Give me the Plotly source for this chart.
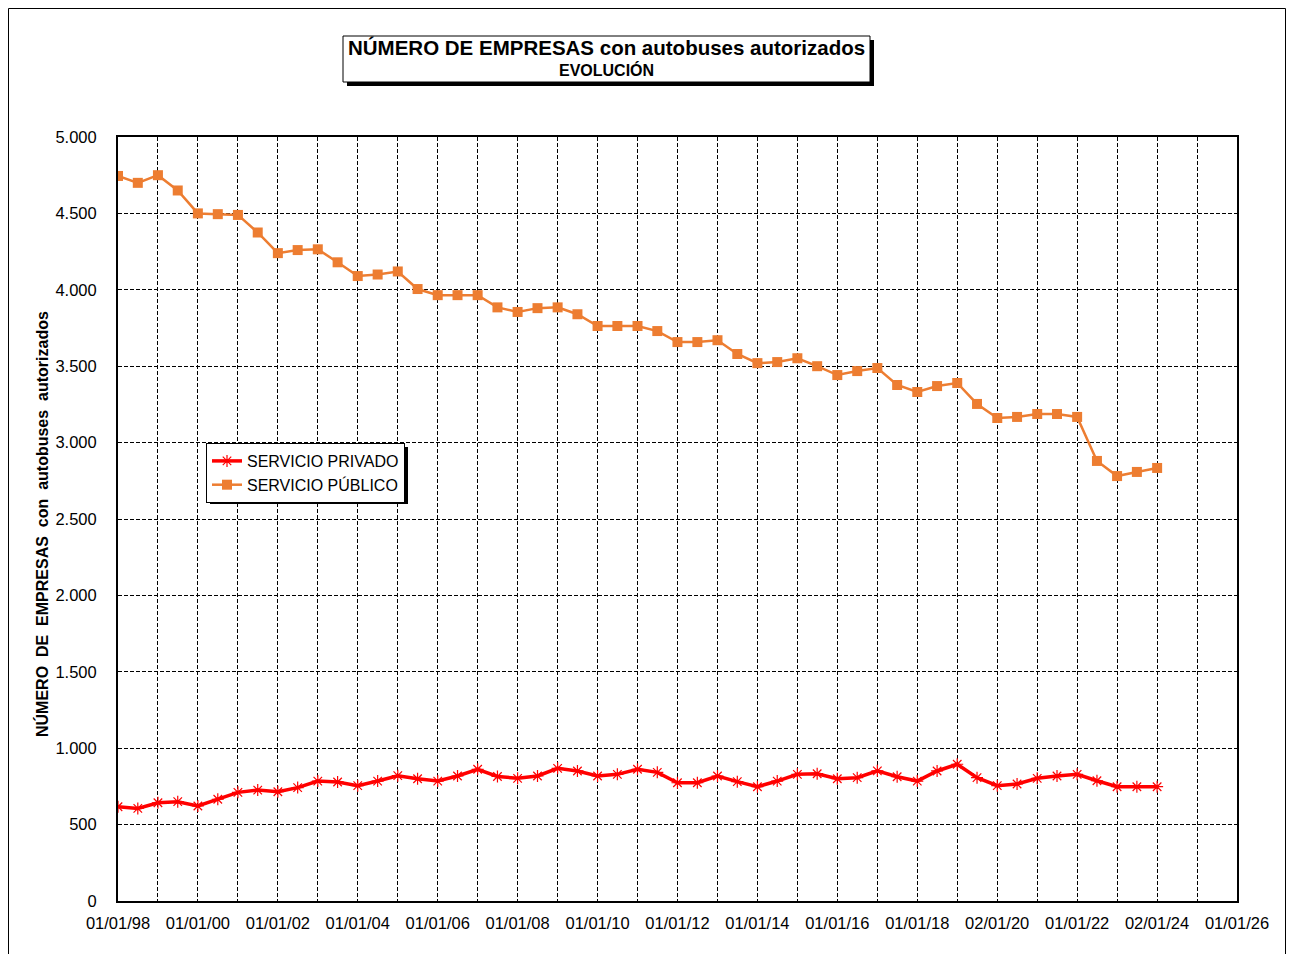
import plotly.graph_objects as go

fechas = [
    "1998-01-01", "1998-07-01", "1999-01-01", "1999-07-01", "2000-01-01", "2000-07-01",
    "2001-01-01", "2001-07-01", "2002-01-01", "2002-07-01", "2003-01-01", "2003-07-01",
    "2004-01-01", "2004-07-01", "2005-01-01", "2005-07-01", "2006-01-01", "2006-07-01",
    "2007-01-01", "2007-07-01", "2008-01-01", "2008-07-01", "2009-01-01", "2009-07-01",
    "2010-01-01", "2010-07-01", "2011-01-01", "2011-07-01", "2012-01-01", "2012-07-01",
    "2013-01-01", "2013-07-01", "2014-01-01", "2014-07-01", "2015-01-01", "2015-07-01",
    "2016-01-01", "2016-07-01", "2017-01-01", "2017-07-01", "2018-01-01", "2018-07-01",
    "2019-01-01", "2019-07-01", "2020-01-02", "2020-07-01", "2021-01-01", "2021-07-01",
    "2022-01-01", "2022-07-01", "2023-01-01", "2023-07-01", "2024-01-02",
]

servicio_publico = [
    4745, 4700, 4750, 4650, 4500, 4495, 4490, 4375, 4240, 4260, 4265, 4180,
    4090, 4100, 4120, 4005, 3965, 3965, 3965, 3885, 3855, 3880, 3885, 3840,
    3763, 3763, 3763, 3730, 3658, 3658, 3670, 3580, 3520, 3527, 3552, 3500,
    3442, 3468, 3488, 3377, 3331, 3370, 3390, 3253, 3161, 3168, 3187, 3187,
    3168, 2880, 2781, 2808, 2834,
]

servicio_privado = [
    617, 606, 643, 650, 622, 666, 711, 726, 715, 742, 785, 779,
    755, 785, 820, 800, 785, 818, 862, 815, 803, 818, 868, 851,
    818, 829, 862, 842, 774, 774, 818, 781, 748, 785, 829, 833,
    800, 807, 852, 813, 785, 851, 895, 807, 755, 766, 803, 818,
    829, 787, 748, 748, 748,
]

tick_fechas = [
    "1998-01-01", "1999-01-01", "2000-01-01", "2001-01-01", "2002-01-01", "2003-01-01",
    "2004-01-01", "2005-01-01", "2006-01-01", "2007-01-01", "2008-01-01", "2009-01-01",
    "2010-01-01", "2011-01-01", "2012-01-01", "2013-01-01", "2014-01-01", "2015-01-01",
    "2016-01-01", "2017-01-01", "2018-01-01", "2019-01-01", "2020-01-01", "2021-01-01",
    "2022-01-01", "2023-01-01", "2024-01-01", "2025-01-01", "2026-01-01",
]
tick_textos = [
    "01/01/98", "", "01/01/00", "", "01/01/02", "", "01/01/04", "", "01/01/06", "",
    "01/01/08", "", "01/01/10", "", "01/01/12", "", "01/01/14", "", "01/01/16", "",
    "01/01/18", "", "02/01/20", "", "01/01/22", "", "02/01/24", "", "01/01/26",
]

FONT = "Arial, 'Liberation Sans', sans-serif"

fig = go.Figure()
fig.add_trace(go.Scatter(
    x=fechas, y=servicio_privado, name="SERVICIO PRIVADO", mode="lines+markers",
    line=dict(color="#FF0000", width=3.5),
    marker=dict(symbol="asterisk-open", size=10, color="#FF0000",
                line=dict(color="#FF0000", width=1.2)),
))
fig.add_trace(go.Scatter(
    x=fechas, y=servicio_publico, name="SERVICIO PÚBLICO", mode="lines+markers",
    line=dict(color="#ED7D31", width=2.5),
    marker=dict(symbol="square", size=10, color="#ED7D31"),
))

# page body has an 8px margin: screen coords = figure coords + 8
OFF = 8
L, R, T, B = 118, 1237, 137, 901   # plot area in screen pixels
W, H = R - L, B - T
FIG_W, FIG_H = 1295 - OFF, 954 - OFF


def px(x):
    return (x - L) / W


def py(y):
    return (B - y) / H


shapes = []
# outer frame
shapes.append(dict(type="rect", xref="paper", yref="paper",
                   x0=px(8.5), x1=px(1285.5), y0=py(990), y1=py(8.5),
                   line=dict(color="black", width=1), fillcolor="rgba(0,0,0,0)", layer="below"))
# title box shadow + box
shapes.append(dict(type="rect", xref="paper", yref="paper",
                   x0=px(347), x1=px(874), y0=py(86), y1=py(40),
                   line=dict(width=0), fillcolor="black"))
shapes.append(dict(type="rect", xref="paper", yref="paper",
                   x0=px(343), x1=px(870), y0=py(82), y1=py(36),
                   line=dict(color="black", width=1), fillcolor="white"))
# legend shadow
shapes.append(dict(type="rect", xref="paper", yref="paper",
                   x0=px(210), x1=px(408), y0=py(504), y1=py(447),
                   line=dict(width=0), fillcolor="black", layer="above"))

annotations = [
    dict(text="<b>NÚMERO DE EMPRESAS con autobuses autorizados</b>", xref="paper", yref="paper",
         x=px(606), y=py(48), showarrow=False, font=dict(family=FONT, size=20.5, color="black"),
         xanchor="center", yanchor="middle"),
    dict(text="<b>EVOLUCIÓN</b>", xref="paper", yref="paper",
         x=px(606), y=py(70), showarrow=False, font=dict(family=FONT, size=16, color="black"),
         xanchor="center", yanchor="middle"),
    dict(text="<b>NÚMERO&nbsp; DE&nbsp; EMPRESAS&nbsp; con&nbsp; autobuses&nbsp; autorizados</b>",
         xref="paper", yref="paper", x=px(42), y=py(524), showarrow=False, textangle=-90,
         font=dict(family=FONT, size=16, color="black"), xanchor="center", yanchor="middle"),
]

fig.update_layout(
    width=FIG_W, height=FIG_H,
    margin=dict(l=L - OFF, r=FIG_W - (R - OFF), t=T - OFF, b=FIG_H - (B - OFF)),
    paper_bgcolor="white", plot_bgcolor="white",
    separators=",.",
    font=dict(family=FONT, size=16, color="black"),
    shapes=shapes, annotations=annotations,
    showlegend=True,
    legend=dict(x=px(206), y=py(443), xanchor="left", yanchor="top",
                bgcolor="white", bordercolor="black", borderwidth=1,
                font=dict(family=FONT, size=16, color="black"),
                itemwidth=30),
    xaxis=dict(type="date", range=["1998-01-01", "2026-01-01"],
               tickmode="array", tickvals=tick_fechas, ticktext=tick_textos,
               tickangle=0, showgrid=True, gridcolor="black", griddash="4px,2px", gridwidth=1,
               showline=True, linecolor="black", linewidth=2, mirror=True,
               ticks="", ticklabelstandoff=6, zeroline=False,
               tickfont=dict(family=FONT, size=16.5)),
    yaxis=dict(range=[0, 5000], dtick=500, tickformat=",d",
               showgrid=True, gridcolor="black", griddash="4px,2px", gridwidth=1,
               showline=True, linecolor="black", linewidth=2, mirror=True,
               ticks="", ticklabelstandoff=16, zeroline=False,
               tickfont=dict(family=FONT, size=16.5)),
)

fig.write_html("out.html")
